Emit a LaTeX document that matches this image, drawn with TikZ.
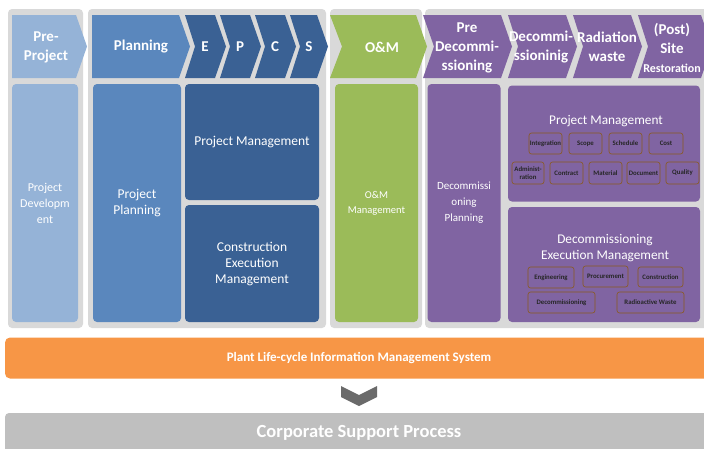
\documentclass[tikz,border=0pt]{standalone}
\usepackage{fontspec}
\setmainfont{Carlito}

\definecolor{panelgray}{HTML}{D9D9D9}
\definecolor{prelight}{HTML}{95B3D7}
\definecolor{planblue}{HTML}{5A87BD}
\definecolor{epcsblue}{HTML}{3A6194}
\definecolor{omgreen}{HTML}{9BBB59}
\definecolor{decpurple}{HTML}{8064A2}
\definecolor{itembrown}{HTML}{8A5A1E}
\definecolor{plimorange}{HTML}{F79646}
\definecolor{arrowgray}{HTML}{6A6A6A}
\definecolor{supportgray}{HTML}{BFBFBF}

% one phase arrow: colour, left x, tip x, notch depth (0 = flat back)
\newcommand{\stage}[4]{%
  \fill[#1] (#2,15) -- (#3-11,15) -- (#3,46.5) -- (#3-11,78) -- (#2,78) -- (#2+#4,46.5) -- cycle;}

\begin{document}
\begin{tikzpicture}[x=1pt,y=-1pt]
    \tikzstyle{panel}=[fill=panelgray,rounded corners=4pt]
    \tikzstyle{phase}=[text=white,align=center,font=\bfseries\fontsize{15}{19}\selectfont]
    \tikzstyle{block}=[rounded corners=4pt,text=white,align=center,inner sep=0pt,font=\fontsize{13.5}{16}\selectfont]
    \tikzstyle{item}=[draw=itembrown,line width=.6pt,rounded corners=2.5pt,align=center,inner sep=0pt,text=black!85,font=\bfseries\fontsize{6.8}{7.4}\selectfont]
    \useasboundingbox (0,0) rectangle (704,448);

    % gray panels behind the phases
    \fill[panel] (8,9) rectangle (83,328);
    \fill[panel] (88,9) rectangle (326,328);
    \fill[panel] (330,9) rectangle (422,328);
    \fill[panel] (425,9) rectangle (712,328);

    % phase arrows
    \stage{prelight}{12}{87}{0}
    \stage{planblue}{92}{190}{0}
    \stage{epcsblue}{185}{226}{10}
    \stage{epcsblue}{220}{261}{10}
    \stage{epcsblue}{255}{296}{10}
    \stage{epcsblue}{290}{328}{10}
    \stage{omgreen}{330}{427}{12}
    \stage{decpurple}{423}{512}{11}
    \stage{decpurple}{508}{577}{10}
    \stage{decpurple}{573}{642}{10}
    \stage{decpurple}{638}{712}{10}

    \node[phase] (preproj) at (46,47.5) {Pre-\\Project};
    \node[phase] (plan) at (141,47) {Planning};
    \node[phase] (e) at (205,47) {E};
    \node[phase] (p) at (240,47) {P};
    \node[phase] (c) at (275,47) {C};
    \node[phase] (s) at (309,47) {S};
    \node[phase] (om) at (382,47) {O\&M};
    \node[phase] (predec) at (467,48) {Pre\\Decommi-\\ssioning};
    \node[phase] (dec) at (541,47) {Decommi-\\ssioninig};
    \node[phase] (rad) at (607,47) {Radiation\\waste};
    \node[phase] (post) at (672,48) {(Post)\\Site\\{\fontsize{12}{19}\selectfont Restoration}};

    % activity blocks
    \node[block,fill=prelight,minimum width=66,minimum height=238,font=\fontsize{12}{16}\selectfont] (devbox) at (45,203) {Project\\Developm\\ent};
    \node[block,fill=planblue,minimum width=88,minimum height=238] (planbox) at (137,203) {Project\\Planning};
    \node[block,fill=epcsblue,minimum width=134,minimum height=116] (pmbox) at (252,142) {Project Management};
    \node[block,fill=epcsblue,minimum width=134,minimum height=117] (cembox) at (252,263.5) {Construction\\Execution\\Management};
    \node[block,fill=omgreen,minimum width=83,minimum height=238,font=\fontsize{10.5}{15}\selectfont] (ombox) at (376.5,203) {O\&M\\Management};
    \node[block,fill=decpurple,minimum width=73,minimum height=238,font=\fontsize{11}{16}\selectfont] (dpbox) at (464,203) {Decommissi\\oning\\Planning};
    \node[block,fill=decpurple,minimum width=192,minimum height=116] (dpmbox) at (604,143.5) {};
    \node[block,fill=decpurple,minimum width=192,minimum height=115] (dembox) at (604,264.5) {};

    \node[text=white,font=\fontsize{13.3}{16}\selectfont] (dpmtitle) at (606,121) {Project Management};
    \node[text=white,align=center,font=\fontsize{13.3}{16}\selectfont] (demtitle) at (605,248) {Decommissioning\\Execution Management};

    % management areas
    \node[item,minimum width=33,minimum height=21] (integ) at (545.5,143.5) {Integration};
    \node[item,minimum width=33,minimum height=21] (scope) at (585.5,143.5) {Scope};
    \node[item,minimum width=33,minimum height=21] (sched) at (625.5,143.5) {Schedule};
    \node[item,minimum width=34,minimum height=21] (cost) at (666,143.5) {Cost};
    \node[item,minimum width=32,minimum height=22] (admin) at (528,173) {Administ-\\ration};
    \node[item,minimum width=33,minimum height=22] (contract) at (566.5,173) {Contract};
    \node[item,minimum width=33,minimum height=22] (material) at (605.5,173) {Material};
    \node[item,minimum width=33,minimum height=22] (document) at (643.5,173) {Document};
    \node[item,minimum width=33,minimum height=22] (quality) at (682.5,173) {Quality};

    \node[item,minimum width=46,minimum height=21] (eng) at (551,277.5) {Engineering};
    \node[item,minimum width=45,minimum height=21] (proc) at (605.5,276.5) {Procurement};
    \node[item,minimum width=45,minimum height=20] (constr) at (660.5,277) {Construction};
    \node[item,minimum width=67,minimum height=21] (decomm) at (561.5,302.5) {Decommissioning};
    \node[item,minimum width=67,minimum height=21] (radwaste) at (650.5,302.5) {Radioactive Waste};

    % information system and corporate support
    \node[fill=plimorange,rounded corners=5pt,minimum width=708,minimum height=41] (plims) at (359,358) {};
    \node[text=white,font=\bfseries\fontsize{13}{15}\selectfont] (plimstext) at (359,358) {Plant Life-cycle Information Management System};
    \fill[arrowgray] (341,386) -- (359,395) -- (377,386) -- (377,397) -- (359,406) -- (341,397) -- cycle;
    \fill[supportgray,rounded corners=4pt] (5,413) rectangle (712,460);
    \node[text=white,font=\bfseries\fontsize{18.5}{21}\selectfont] (support) at (359,433) {Corporate Support Process};
\end{tikzpicture}
\end{document}
